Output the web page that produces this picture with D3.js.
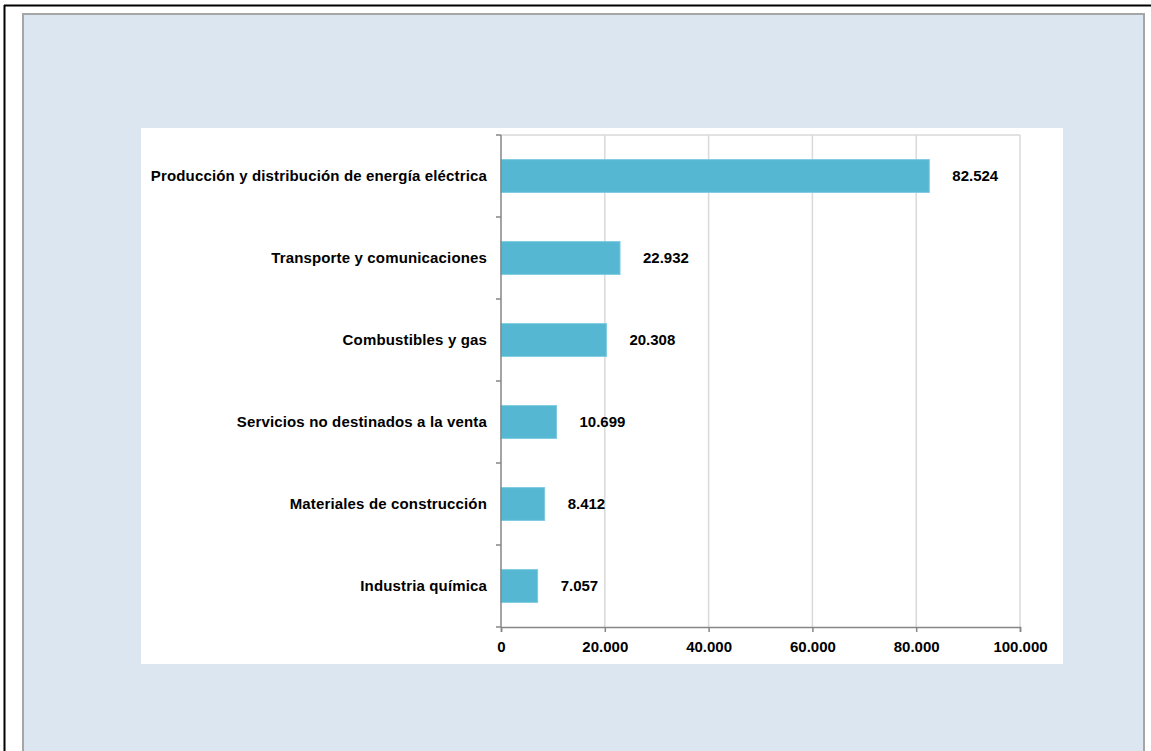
<!DOCTYPE html>
<html><head><meta charset="utf-8">
<script src="https://cdn.jsdelivr.net/npm/d3@7"></script>
<style>
html,body{margin:0;padding:0;background:#fff;}
svg{display:block;font-family:"Liberation Sans",Arial,sans-serif;}
</style></head>
<body>
<script>
const categories = ["Producción y distribución de energía eléctrica","Transporte y comunicaciones","Combustibles y gas","Servicios no destinados a la venta","Materiales de construcción","Industria química"];
const values = [82524, 22932, 20308, 10699, 8412, 7057];
const valueLabels = ["82.524","22.932","20.308","10.699","8.412","7.057"];
const xTicks = [0, 20000, 40000, 60000, 80000, 100000];
const xTickLabels = ["0","20.000","40.000","60.000","80.000","100.000"];

const W = 1151, H = 751;
const svg = d3.select("body").append("svg").attr("width", W).attr("height", H);

// outer frame
svg.append("line").attr("x1",4.5).attr("x2",4.5).attr("y1",5).attr("y2",H).attr("stroke","#000").attr("stroke-width",2);
svg.append("line").attr("x1",4).attr("x2",W).attr("y1",5.5).attr("y2",5.5).attr("stroke","#000").attr("stroke-width",2);

// light blue panel
svg.append("rect").attr("x",23).attr("y",14).attr("width",1121).attr("height",H-14+5)
  .attr("fill","#DCE6F1").attr("stroke","#A6A6A6").attr("stroke-width",2);

// white plot area
svg.append("rect").attr("x",141).attr("y",128).attr("width",922).attr("height",536).attr("fill","#fff");

const x0 = 501, x1 = 1020, yTop = 135, yBot = 627;
const x = d3.scaleLinear().domain([0,100000]).range([x0,x1]);
const y = d3.scaleBand().domain(categories).range([yTop,yBot]).paddingInner(0.6).paddingOuter(0.3);

// gridlines
svg.append("g").selectAll("line").data(xTicks.slice(1)).join("line")
  .attr("x1",d=>x(d)).attr("x2",d=>x(d)).attr("y1",yTop).attr("y2",yBot)
  .attr("stroke","#D9D9D9").attr("stroke-width",1.5);
svg.append("line").attr("x1",x0).attr("x2",x1).attr("y1",yTop).attr("y2",yTop).attr("stroke","#D9D9D9").attr("stroke-width",1.5);

// bars
svg.append("g").selectAll("rect").data(values).join("rect")
  .attr("x",x(0)).attr("y",(d,i)=>y(categories[i]))
  .attr("width",d=>x(d)-x(0)).attr("height",y.bandwidth())
  .attr("fill","#55B7D2").attr("stroke","#7CCAE0").attr("stroke-width",1);

// value labels
svg.append("g").selectAll("text").data(values).join("text")
  .attr("x",d=>x(d)+23).attr("y",(d,i)=>y(categories[i])+y.bandwidth()/2)
  .attr("dy","0.36em").attr("font-size",15).attr("font-weight","bold").attr("fill","#000")
  .text((d,i)=>valueLabels[i]);

// y axis
const yStep = (yBot-yTop)/categories.length;
const yAxis = svg.append("g");
yAxis.append("line").attr("x1",x0).attr("x2",x0).attr("y1",yTop).attr("y2",yBot).attr("stroke","#868686").attr("stroke-width",1.5);
yAxis.selectAll("line.t").data(d3.range(categories.length+1)).join("line").attr("class","t")
  .attr("x1",x0-5).attr("x2",x0).attr("y1",i=>yTop+i*yStep).attr("y2",i=>yTop+i*yStep)
  .attr("stroke","#868686").attr("stroke-width",1.5);
yAxis.selectAll("text").data(categories).join("text")
  .attr("x",487).attr("y",d=>y(d)+y.bandwidth()/2).attr("dy","0.36em")
  .attr("text-anchor","end").attr("font-size",15).attr("font-weight","bold").attr("fill","#000")
  .attr("letter-spacing","0.15px")
  .text(d=>d);

// x axis
const xAxis = svg.append("g").attr("transform",`translate(0,${yBot})`)
  .call(d3.axisBottom(x).tickValues(xTicks).tickSize(5).tickFormat((d,i)=>xTickLabels[i]));
xAxis.select(".domain").attr("stroke","#868686").attr("stroke-width",1.5);
xAxis.selectAll(".tick line").attr("stroke","#868686").attr("stroke-width",1.5);
xAxis.selectAll(".tick text").attr("font-size",15).attr("font-weight","bold").attr("fill","#000")
  .attr("font-family","Liberation Sans, Arial, sans-serif").attr("dy","0.71em").attr("y",14);
</script>
</body></html>
